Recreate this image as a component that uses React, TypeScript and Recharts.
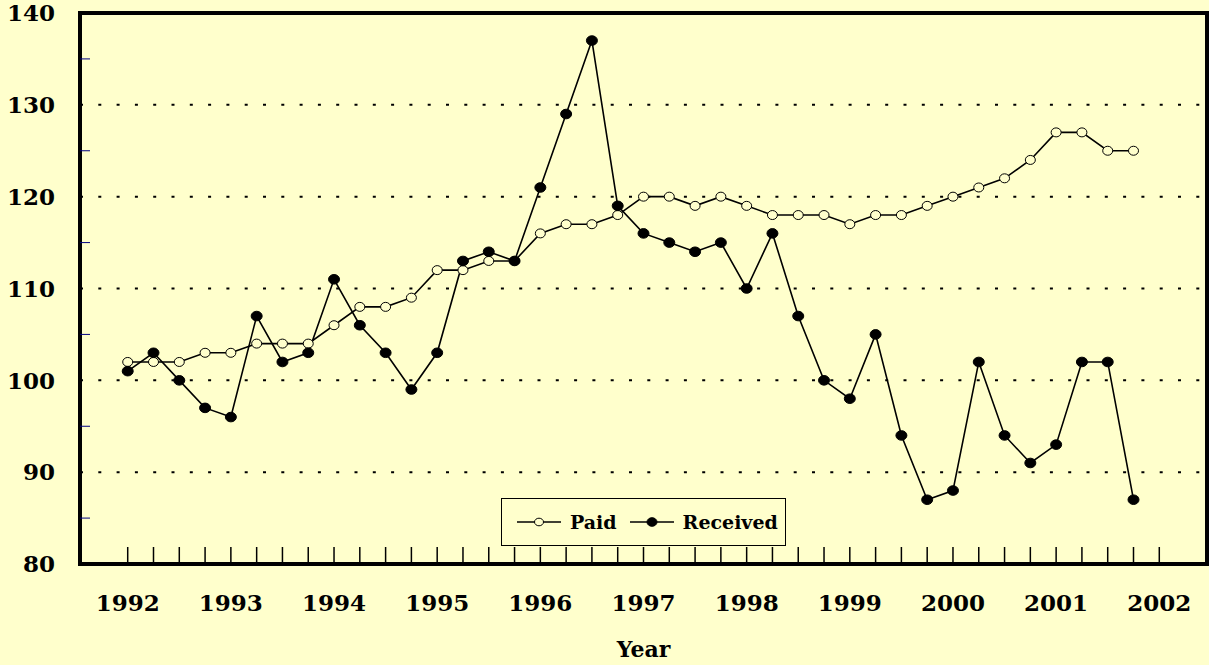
import React from 'react';
import { LineChart, Line, XAxis, YAxis, CartesianGrid, Legend } from 'recharts';

const BG = '#FFFFCC';
const FONT = '"DejaVu Serif", serif';

const yearLabels = ['1992', '1993', '1994', '1995', '1996', '1997', '1998', '1999', '2000', '2001', '2002'];

const paid = [
  102, 102, 102, 103,
  103, 104, 104, 104,
  106, 108, 108, 109,
  112, 112, 113, 113,
  116, 117, 117, 118,
  120, 120, 119, 120,
  119, 118, 118, 118,
  117, 118, 118, 119,
  120, 121, 122, 124,
  127, 127, 125, 125,
];

const received = [
  101, 103, 100, 97,
  96, 107, 102, 103,
  111, 106, 103, 99,
  103, 113, 114, 113,
  121, 129, 137, 119,
  116, 115, 114, 115,
  110, 116, 107, 100,
  98, 105, 94, 87,
  88, 102, 94, 91,
  93, 102, 102, 87,
];

const yTicks = [80, 85, 90, 95, 100, 105, 110, 115, 120, 125, 130, 135, 140];
const quarterTicks = [
  0, 1, 2, 3, 4, 5, 6, 7, 8, 9, 10, 11, 12, 13, 14, 15, 16, 17, 18, 19, 20,
  21, 22, 23, 24, 25, 26, 27, 28, 29, 30, 31, 32, 33, 34, 35, 36, 37, 38, 39, 40,
];

const data = paid.map((p, i) => ({ t: i, paid: p, received: received[i] }));

const X_DOMAIN: [number, number] = [-1.85, 41.85];
const Y_DOMAIN: [number, number] = [80, 140];

const labelStyle = { fontFamily: FONT, fontWeight: 'bold' as const, fontSize: 23, fill: '#000' };
const border = { stroke: '#000', strokeWidth: 4, strokeLinecap: 'square' as const };

const Y_TICK_MARGIN = 25;

const YTick = (props: any) => {
  const { x, y, payload } = props;
  const v = payload.value;
  if (v % 10 === 0) {
    return (
      <text x={x} y={y} dy="0.36em" textAnchor="end" style={labelStyle}>
        {v}
      </text>
    );
  }
  return <line x1={x + Y_TICK_MARGIN} x2={x + Y_TICK_MARGIN + 10} y1={y} y2={y} stroke="#000080" strokeWidth={1} />;
};

const XTick = (props: any) => {
  const { x, y, payload } = props;
  const v = payload.value;
  if (v % 4 !== 0) return <g />;
  return (
    <text x={x} y={y} dy="0.71em" textAnchor="middle" style={labelStyle}>
      {yearLabels[v / 4]}
    </text>
  );
};

const OpenDot = (props: any) => (
  <ellipse key={`p-${props.index}`} cx={props.cx} cy={props.cy} rx={5} ry={4.5} fill={BG} stroke="#000" strokeWidth={1} />
);
const FilledDot = (props: any) => (
  <ellipse key={`r-${props.index}`} cx={props.cx} cy={props.cy} rx={5.5} ry={4.8} fill="#000" stroke="#000" strokeWidth={1} />
);

const LegendIcon = ({ filled }: { filled: boolean }) => (
  <svg width={44} height={12} style={{ display: 'block' }}>
    <line x1={0} y1={6} x2={44} y2={6} stroke="#000" strokeWidth={1.5} />
    <ellipse cx={22} cy={6} rx={filled ? 5 : 4.5} ry={filled ? 4.3 : 3.8} fill={filled ? '#000' : BG} stroke="#000" strokeWidth={1} />
  </svg>
);

const LegendBox = () => (
  <div
    style={{
      width: 285,
      height: 48,
      boxSizing: 'border-box',
      border: '1.5px solid #000',
      background: BG,
      display: 'flex',
      alignItems: 'center',
      paddingLeft: 15,
      fontFamily: FONT,
      fontWeight: 'bold',
      fontSize: 19,
      color: '#000',
    }}
  >
    <LegendIcon filled={false} />
    <span style={{ marginLeft: 9, marginRight: 13 }}>Paid</span>
    <LegendIcon filled={true} />
    <span style={{ marginLeft: 9 }}>Received</span>
  </div>
);

export default function App() {
  return (
    <div style={{ position: 'absolute', left: 0, top: 0, width: 1209, height: 665, background: BG }}>
      <LineChart width={1209} height={665} data={data} margin={{ top: 12, right: 1, bottom: 0, left: 0 }}>
        <XAxis
          xAxisId="q"
          dataKey="t"
          type="number"
          domain={X_DOMAIN}
          ticks={quarterTicks}
          interval={0}
          height={101}
          tickSize={-17}
          tickMargin={48}
          tick={XTick}
          tickLine={{ stroke: '#000', strokeWidth: 1.5 }}
          axisLine={border}
          label={{ value: 'Year', position: 'insideBottom', offset: 8, style: { ...labelStyle, fontSize: 22 } }}
          allowDataOverflow
        />
        <XAxis
          xAxisId="top"
          orientation="top"
          type="number"
          domain={X_DOMAIN}
          height={1}
          tick={false}
          tickLine={false}
          axisLine={border}
        />
        <YAxis
          yAxisId="v"
          type="number"
          domain={Y_DOMAIN}
          ticks={yTicks}
          interval={0}
          width={80}
          tickSize={0}
          tickMargin={Y_TICK_MARGIN}
          tickLine={false}
          axisLine={border}
          tick={YTick}
          allowDataOverflow
        />
        <YAxis
          yAxisId="right"
          orientation="right"
          type="number"
          domain={Y_DOMAIN}
          width={1}
          tick={false}
          tickLine={false}
          axisLine={border}
        />
        <CartesianGrid
          xAxisId="q"
          yAxisId="v"
          vertical={false}
          horizontalValues={[90, 100, 110, 120, 130]}
          stroke="#000"
          strokeWidth={2}
          strokeDasharray="3 15.3"
        />
        <Legend
          layout="vertical"
          align="center"
          verticalAlign="middle"
          width={285}
          height={48}
          wrapperStyle={{ left: 501, top: 498, width: 285, height: 48 }}
          content={() => <LegendBox />}
        />
        <Line
          xAxisId="q"
          yAxisId="v"
          type="linear"
          dataKey="paid"
          name="Paid"
          stroke="#000"
          strokeWidth={1.6}
          dot={OpenDot}
          activeDot={false}
          isAnimationActive={false}
        />
        <Line
          xAxisId="q"
          yAxisId="v"
          type="linear"
          dataKey="received"
          name="Received"
          stroke="#000"
          strokeWidth={1.6}
          dot={FilledDot}
          activeDot={false}
          isAnimationActive={false}
        />
      </LineChart>
    </div>
  );
}
